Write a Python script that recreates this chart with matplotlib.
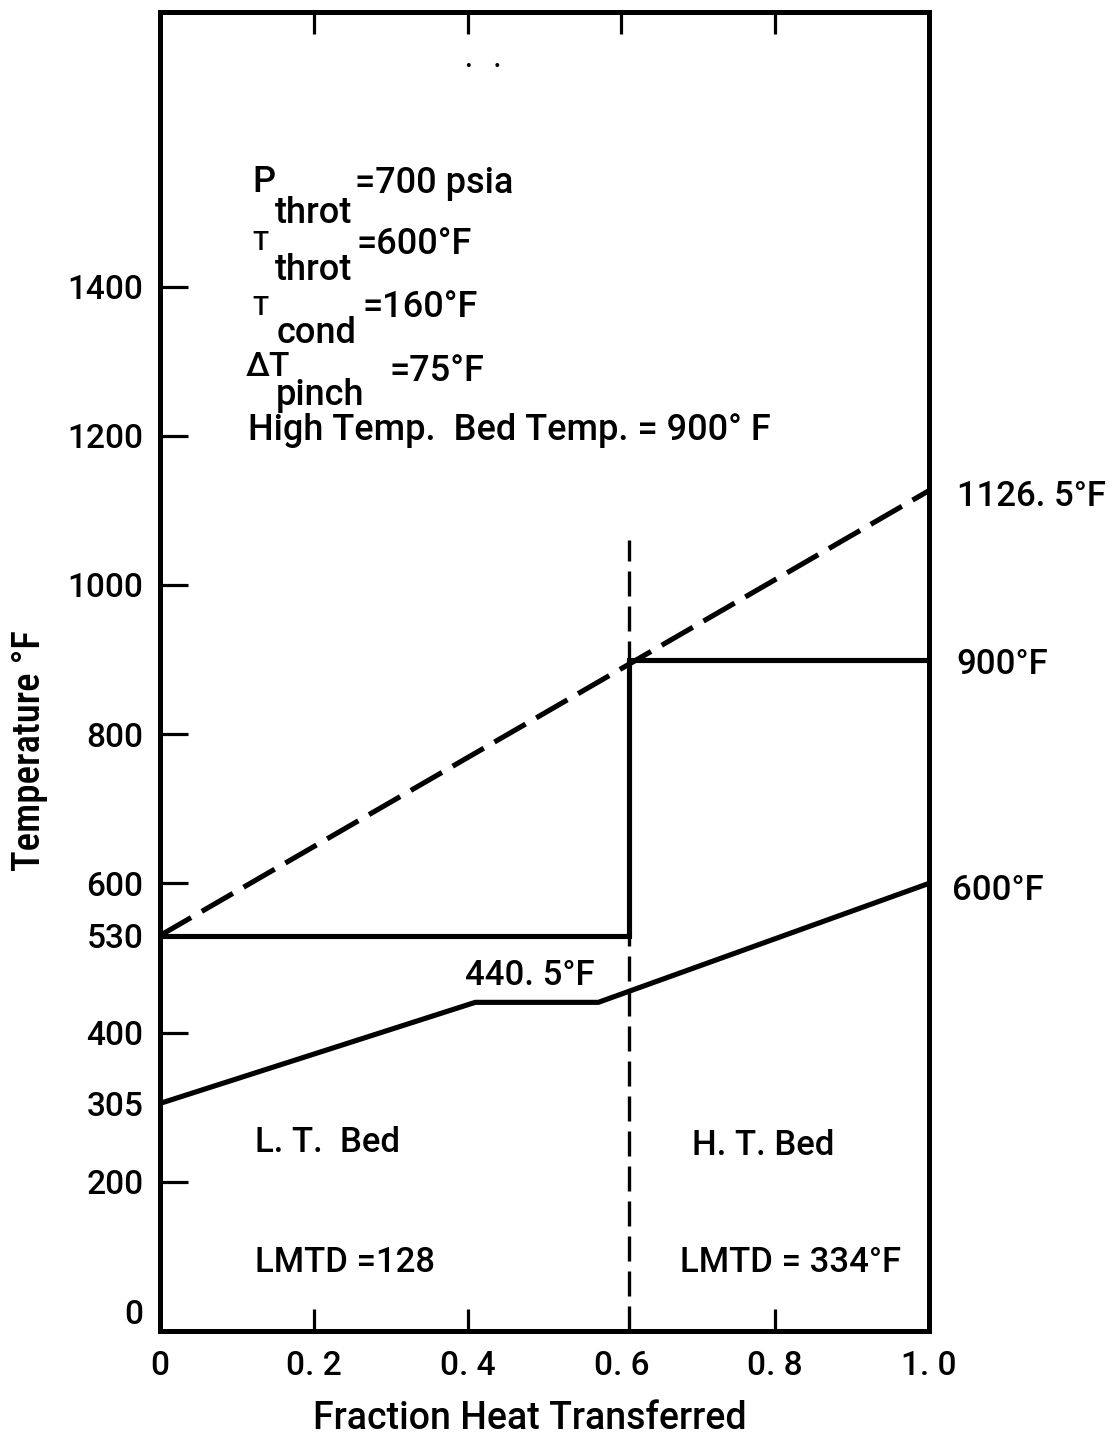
import matplotlib
matplotlib.use("Agg")
import matplotlib.pyplot as plt

plt.rcParams['font.family'] = ['Roboto', 'DejaVu Sans']
plt.rcParams['font.weight'] = 'medium'
plt.rcParams['axes.labelweight'] = 'medium'

# ---- data ----
frac_hot = [0.0, 1.0]
temp_hot = [530.0, 1126.5]

frac_bed = [0.0, 0.61, 0.61, 1.0]
temp_bed = [530.0, 530.0, 900.0, 900.0]

frac_steam = [0.0, 0.41, 0.57, 1.0]
temp_steam = [305.0, 440.5, 440.5, 600.0]

divider_frac = [0.61, 0.61]
divider_temp = [0.0, 1060.0]

x_ticks = [0.0, 0.2, 0.4, 0.6, 0.8, 1.0]
x_ticklabels = ["0", "0. 2", "0. 4", "0. 6", "0. 8", "1. 0"]
y_ticks = [0, 200, 305, 400, 530, 600, 800, 1000, 1200, 1400]
y_ticklabels = ["0", "200", "305", "400", "530", "600", "800", "1000", "1200", "1400"]

fig = plt.figure(figsize=(11.17, 14.37), dpi=100)
ax = fig.add_axes([0.1432, 0.0738, 0.6885, 0.9178])
ax.set_xlim(0, 1)
ax.set_ylim(0, 1768)

LW = 3.7
ax.plot(frac_hot, temp_hot, color='black', lw=LW, dashes=(7, 2.4),
        solid_capstyle='butt', dash_capstyle='butt')
ax.plot(frac_bed, temp_bed, color='black', lw=LW, solid_joinstyle='miter')
ax.plot(frac_steam, temp_steam, color='black', lw=LW, solid_joinstyle='miter')
ax.plot(divider_frac, divider_temp, color='black', lw=2.4, dashes=(7.5, 3))

for s in ax.spines.values():
    s.set_linewidth(3.6)

ax.set_xticks(x_ticks)
ax.set_xticklabels(x_ticklabels)
ax.set_yticks(y_ticks)
ax.set_yticklabels(y_ticklabels)
ax.tick_params(axis='x', direction='in', top=True, length=16, width=2.3,
               labelsize=24, pad=14)
ax.tick_params(axis='y', direction='in', length=20, width=2.3,
               labelsize=24, pad=12)
for i, t in enumerate(ax.xaxis.get_major_ticks()):
    if x_ticks[i] in (0.0, 0.6, 1.0):
        t.tick1line.set_visible(False)
    if x_ticks[i] in (0.0, 1.0):
        t.tick2line.set_visible(False)
for i, t in enumerate(ax.yaxis.get_major_ticks()):
    if y_ticks[i] in (0, 305, 530):
        t.tick1line.set_visible(False)
    if y_ticks[i] == 0:
        t.label1.set_va('bottom')

ax.set_xlabel("Fraction Heat Transferred", fontsize=27)
ax.xaxis.set_label_coords(0.481, -0.052)
ax.set_ylabel("Temperature °F", fontsize=28,
              family=['Roboto Condensed', 'Roboto', 'DejaVu Sans'])
ax.yaxis.set_label_coords(-0.145, 0.44)

FS = 26
# parameter block
ax.text(0.12, 1527, "P", fontsize=FS, va='baseline')
ax.text(0.150, 1485, "throt", fontsize=FS, va='baseline')
ax.text(0.254, 1525, "=700 psia", fontsize=FS, va='baseline')

ax.text(0.12, 1449, "T", fontsize=19, va='baseline')
ax.text(0.150, 1409, "throt", fontsize=FS, va='baseline')
ax.text(0.256, 1444, "=600°F", fontsize=FS, va='baseline')

ax.text(0.12, 1362, "T", fontsize=19, va='baseline')
ax.text(0.152, 1324, "cond", fontsize=FS, va='baseline')
ax.text(0.263, 1359, "=160°F", fontsize=FS, va='baseline')

ax.text(0.112, 1280, "ΔT", fontsize=24, va='baseline')
ax.text(0.150, 1241, "pinch", fontsize=FS, va='baseline')
ax.text(0.299, 1273, "=75°F", fontsize=FS, va='baseline')

ax.text(0.114, 1194, "High Temp.  Bed Temp. = 900° F", fontsize=FS, va='baseline')

# end labels
FS2 = 25
ax.text(1.036, 1118, "1126. 5°F", fontsize=FS2, va='center', clip_on=False)
ax.text(1.036, 893, "900°F", fontsize=FS2, va='center', clip_on=False)
ax.text(1.030, 591, "600°F", fontsize=FS2, va='center', clip_on=False)
ax.text(0.397, 477, "440. 5°F", fontsize=FS2, va='center')

ax.text(0.124, 253, "L. T.  Bed", fontsize=FS2, va='center')
ax.text(0.692, 249, "H. T. Bed", fontsize=FS2, va='center')
ax.text(0.124, 92, "LMTD =128", fontsize=FS2, va='center')
ax.text(0.676, 92, "LMTD = 334°F", fontsize=FS2, va='center')

ax.text(0.42, 1705, ".   .", fontsize=20, ha='center', va='center')

fig.savefig("out.png", dpi=100)
